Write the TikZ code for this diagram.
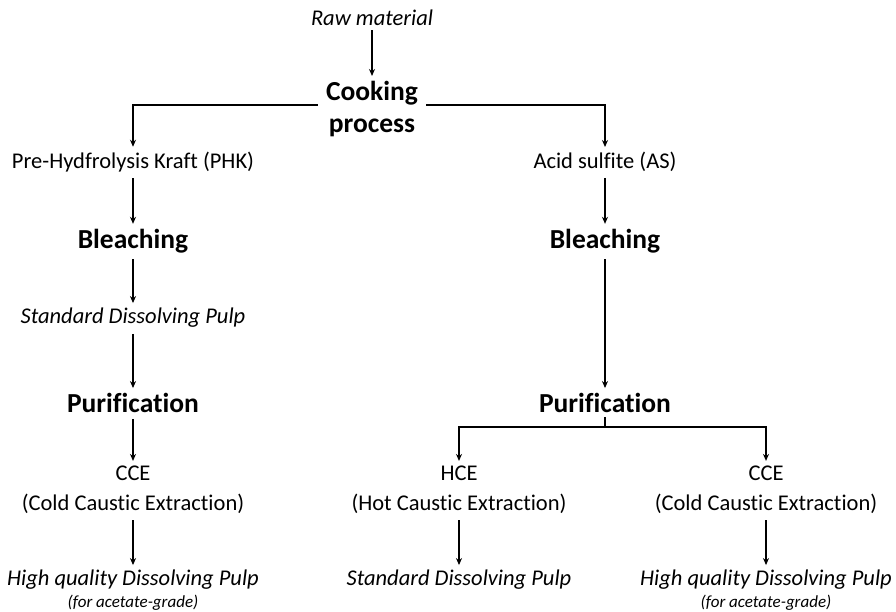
\documentclass[tikz,border=0pt]{standalone}
\usepackage{fontspec}
\setmainfont{Carlito}[Ligatures=NoCommon]
\usetikzlibrary{arrows.meta}
\begin{document}
\begin{tikzpicture}[x=1pt,y=-1pt,
  lbl/.style={inner sep=0pt, font=\fontsize{22.5}{30}\selectfont, align=center},
  ital/.style={inner sep=0pt, font=\fontsize{22.5}{30}\selectfont\itshape, align=center},
  small/.style={inner sep=0pt, font=\fontsize{17}{20}\selectfont\itshape, align=center},
  bold/.style={inner sep=0pt, font=\fontsize{27.5}{32}\selectfont\bfseries, align=center},
  arr/.style={-{Stealth[length=7pt,width=6pt]}, line width=1.2pt, shorten <=6pt, shorten >=5pt},
  plain/.style={line width=1.2pt}]
\useasboundingbox (0,0) rectangle (896,612);
\node[ital] (raw) at (372,18) {Raw material};
\node[bold] (cook) at (372,109) {Cooking\\process};
\node[lbl] (phk) at (133,162) {Pre-Hydfrolysis Kraft (PHK)};
\node[lbl] (as) at (605,162) {Acid sulfite (AS)};
\node[bold] (bl1) at (133,241) {Bleaching};
\node[bold] (bl2) at (605,241) {Bleaching};
\node[ital] (sdp1) at (133,318) {Standard Dissolving Pulp};
\node[bold] (pur1) at (133,403) {Purification};
\node[bold] (pur2) at (605,403) {Purification};
\node[lbl] (cce1) at (133,490) {CCE\\(Cold Caustic Extraction)};
\node[lbl] (hce) at (459,490) {HCE\\(Hot Caustic Extraction)};
\node[lbl] (cce2) at (766,490) {CCE\\(Cold Caustic Extraction)};
\node[ital] (hq1) at (133,580) {High quality Dissolving Pulp};
\node[small] (ac1) at (133,603) {(for acetate-grade)};
\node[ital] (sdp2) at (459,580) {Standard Dissolving Pulp};
\node[ital] (hq2) at (766,580) {High quality Dissolving Pulp};
\node[small] (ac2) at (766,603) {(for acetate-grade)};
\coordinate (split) at (605,427);

\draw[arr, shorten <=4pt] (raw) -- (cook);
\draw[arr, shorten <=8pt] ([yshift=4pt]cook.west) -| (phk.north);
\draw[arr, shorten <=8pt] ([yshift=4pt]cook.east) -| (as.north);
\draw[arr] (phk) -- (bl1);
\draw[arr] (as) -- (bl2);
\draw[arr] (bl1) -- (sdp1);
\draw[arr] (sdp1) -- (pur1);
\draw[arr] (bl2) -- (pur2);
\draw[arr] (pur1) -- (cce1);
\draw[plain, shorten <=4pt] (pur2) -- (split);
\draw[arr, shorten <=0pt] (split) -| (hce.north);
\draw[arr, shorten <=0pt] (split) -| (cce2.north);
\draw[arr] (cce1) -- (hq1);
\draw[arr] (hce) -- (sdp2);
\draw[arr] (cce2) -- (hq2);
\end{tikzpicture}
\end{document}
